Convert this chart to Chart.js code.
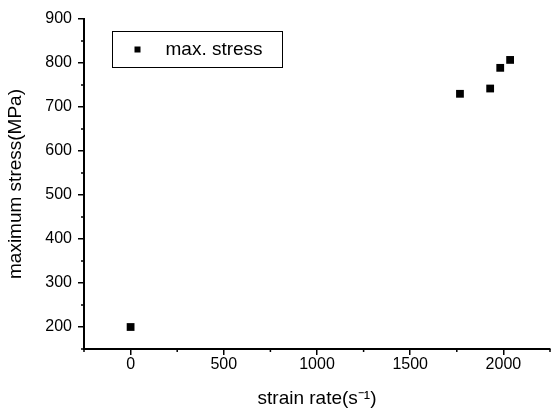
<!DOCTYPE html>
<html>
<head>
<meta charset="utf-8">
<script src="https://cdn.jsdelivr.net/npm/chart.js@4"></script>
<style>
  html, body { margin: 0; padding: 0; background: #fff; }
  #wrap { width: 557px; height: 414px; }
</style>
</head>
<body>
<div id="wrap"><canvas id="chart" width="557" height="414"></canvas></div>
<script>
// ── Data ──────────────────────────────────────────────────────────────────
const strainRate = [0, 1767, 1929, 1983, 2036];
const maxStress = [200, 730, 742, 789, 807];
const seriesLabel = 'max. stress';

const xTicks = [0, 500, 1000, 1500, 2000];
const yTicks = [200, 300, 400, 500, 600, 700, 800, 900];
const xMinorTicks = [-250, 250, 750, 1250, 1750, 2250];
const yMinorTicks = [150, 250, 350, 450, 550, 650, 750, 850];

const FONT = 'Liberation Sans, Arial, Helvetica, sans-serif';

// minor ticks (Chart.js has only one tick length per axis)
const minorTicks = {
  id: 'minorTicks',
  afterDraw(chart) {
    const { ctx, scales: { x, y }, chartArea } = chart;
    ctx.save();
    ctx.strokeStyle = '#000';
    ctx.lineWidth = 1.5;
    ctx.beginPath();
    xMinorTicks.forEach(v => {
      const px = x.getPixelForValue(v);
      ctx.moveTo(px, chartArea.bottom);
      ctx.lineTo(px, chartArea.bottom + 3);
    });
    yMinorTicks.forEach(v => {
      const py = y.getPixelForValue(v);
      ctx.moveTo(chartArea.left, py);
      ctx.lineTo(chartArea.left - 3, py);
    });
    ctx.stroke();
    ctx.restore();
  }
};

// boxed legend inside the plot area
const boxLegend = {
  id: 'boxLegend',
  afterDraw(chart) {
    const { ctx, chartArea } = chart;
    const ds = chart.data.datasets[0];
    const bx = chartArea.left + 28.5, by = chartArea.top + 12.5;
    const bw = 170, bh = 36;
    ctx.save();
    ctx.fillStyle = '#fff';
    ctx.fillRect(bx, by, bw, bh);
    ctx.strokeStyle = '#000';
    ctx.lineWidth = 1;
    ctx.strokeRect(bx, by, bw, bh);
    ctx.fillStyle = '#000';
    ctx.fillRect(bx + 22, by + 15, 6, 6);
    ctx.font = '19px ' + FONT;
    ctx.textBaseline = 'middle';
    ctx.fillText(ds.label, bx + 53, by + bh / 2);
    ctx.restore();
  }
};

new Chart(document.getElementById('chart'), {
  type: 'scatter',
  data: {
    datasets: [{
      label: seriesLabel,
      data: strainRate.map((v, i) => ({ x: v, y: maxStress[i] })),
      pointStyle: 'rect',
      pointRadius: 5.5,
      pointHoverRadius: 5.5,
      backgroundColor: '#000',
      borderColor: '#000',
      borderWidth: 0
    }]
  },
  options: {
    responsive: false,
    animation: false,
    layout: { padding: { top: 19, right: 7, left: 0, bottom: 0 } },
    plugins: { legend: { display: false }, tooltip: { enabled: false } },
    scales: {
      x: {
        type: 'linear',
        min: -250,
        max: 2250,
        afterBuildTicks: s => { s.ticks = xTicks.map(v => ({ value: v })); },
        afterFit: s => { s.height = 65; },
        ticks: { color: '#000', font: { family: FONT, size: 16 }, padding: 0, maxRotation: 0, callback: v => String(v) },
        grid: { display: true, drawOnChartArea: false, drawTicks: true, tickLength: 6, color: '#000', lineWidth: 1.5 },
        border: { display: true, color: '#000', width: 2 },
        title: { display: true, text: 'strain rate(s\u207B\u00B9)', color: '#000', font: { family: FONT, size: 19 }, padding: { top: 0, bottom: 4 } }
      },
      y: {
        type: 'linear',
        min: 150,
        max: 900,
        afterBuildTicks: s => { s.ticks = yTicks.map(v => ({ value: v })); },
        afterFit: s => { s.width = 84; },
        ticks: { color: '#000', font: { family: FONT, size: 16 }, padding: 6, callback: v => String(v) },
        grid: { display: true, drawOnChartArea: false, drawTicks: true, tickLength: 6, color: '#000', lineWidth: 1.5 },
        border: { display: true, color: '#000', width: 2 },
        title: { display: true, text: 'maximum stress(MPa)', color: '#000', font: { family: FONT, size: 19 }, padding: { top: 4, bottom: 0 } }
      }
    }
  },
  plugins: [minorTicks, boxLegend]
});
</script>
</body>
</html>
